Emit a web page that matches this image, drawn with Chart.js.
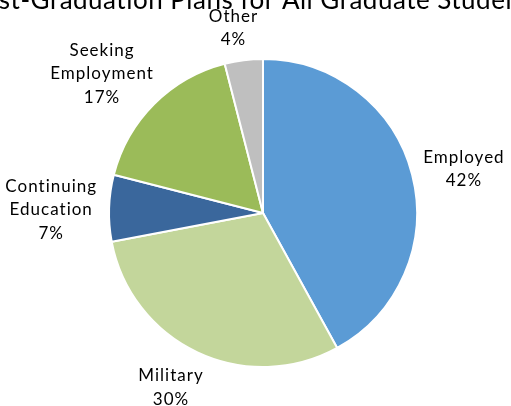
<!DOCTYPE html>
<html>
<head>
<meta charset="utf-8">
<script src="https://cdn.jsdelivr.net/npm/chart.js@4"></script>
<style>
  html, body { margin: 0; padding: 0; background: #fff; }
  #wrap { width: 511px; height: 406px; }
</style>
</head>
<body>
<div id="wrap"><canvas id="chartPlans"></canvas></div>
<script>
const title = 'Post-Graduation Plans for All Graduate Students';
const categories = [['Employed'], ['Military'], ['Continuing', 'Education'], ['Seeking', 'Employment'], ['Other']];
const percents = [42, 30, 7, 17, 4];
const colors = ['#5B9BD5', '#C3D69B', '#3A679C', '#9BBB59', '#BFBFBF'];

// labels outside each slice + the (cut off) title
const outsideLabels = {
  id: 'outsideLabels',
  afterDraw(chart) {
    const c = chart.ctx;
    const meta = chart.getDatasetMeta(0);
    c.save();
    c.fillStyle = '#000';
    c.textAlign = 'center';
    c.textBaseline = 'middle';
    c.font = '17px Lato';
    c.letterSpacing = '1px';
    let cx0 = 0;
    meta.data.forEach((arc, i) => {
      const p = arc.getProps(['x', 'y', 'startAngle', 'endAngle', 'outerRadius'], true);
      cx0 = p.x;
      const mid = (p.startAngle + p.endAngle) / 2;
      const dx = Math.cos(mid), dy = Math.sin(mid);
      const lines = [...categories[i], percents[i] + '%'];
      const lh = 23.5;
      const w = Math.max(...lines.map(l => c.measureText(l).width));
      const h = lines.length * lh;
      const r = p.outerRadius + 12;
      const cx = p.x + dx * r + Math.sign(dx) * Math.sqrt(Math.abs(dx)) * w / 2;
      const cy = p.y + dy * r + dy * h / 2 + 3;
      lines.forEach((l, k) => c.fillText(l, cx, cy - h / 2 + lh / 2 + k * lh));
    });
    c.font = '26px Lato';
    c.letterSpacing = '0.5px';
    c.textBaseline = 'alphabetic';
    c.fillText(title, cx0 - 8, 9);
    c.restore();
  }
};

new Chart(document.getElementById('chartPlans'), {
  type: 'pie',
  data: {
    labels: categories,
    datasets: [{
      data: percents,
      backgroundColor: colors,
      borderColor: '#fff',
      borderWidth: 2
    }]
  },
  options: {
    responsive: true,
    maintainAspectRatio: false,
    animation: false,
    layout: { padding: { top: 58, bottom: 38, left: 108, right: 93 } },
    plugins: {
      legend: { display: false },
      tooltip: { enabled: false }
    }
  },
  plugins: [outsideLabels]
});
</script>
</body>
</html>
